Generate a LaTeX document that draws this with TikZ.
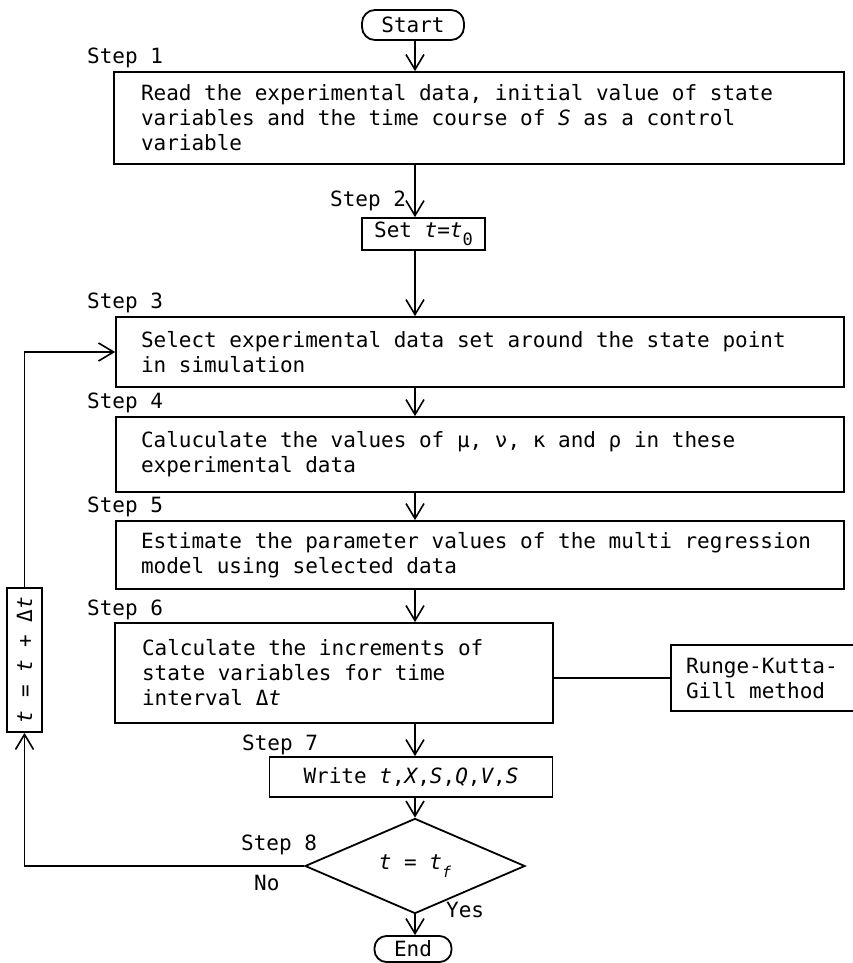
\documentclass[tikz,border=0pt]{standalone}
\usepackage{fontspec}
\newfontfamily\fcfont{DejaVu Sans Mono}
\usetikzlibrary{arrows.meta,shapes.geometric}
\newcommand{\fcsize}{\fcfont\fontsize{21}{25}\selectfont}
\newcommand{\fcspaces}{\spaceskip=12.64pt\relax\xspaceskip=12.64pt\relax}
\begin{document}
\begin{tikzpicture}[x=1pt,y=-1pt,
  every node/.style={font=\fcsize, text=black, execute at begin node=\fcspaces},
  proc/.style={draw, line width=1.8pt, align=left, inner ysep=0pt},
  term/.style={draw, line width=1.8pt, rounded corners=13pt, inner sep=0pt},
  lbl/.style={anchor=west, inner sep=0pt},
  conn/.style={line width=1.6pt},
  arr/.style={line width=1.6pt, -{Straight Barb[length=15pt,width=18pt,line width=1.6pt]}}
]
\useasboundingbox (0,0) rectangle (853,963);
\clip (0,0) rectangle (853,963);
\fill[white] (0,0) rectangle (853,963);
\coordinate (col) at (415,0);

% terminals
\node[term, minimum width=102pt, minimum height=30pt] (start) at (413,25) {Start};
\node[term, minimum width=77pt, minimum height=26pt, rounded corners=12pt] (end) at (413,949) {End};

% process boxes
\node[proc, minimum width=730pt, minimum height=92pt, text width=676pt, inner xsep=27pt] (s1) at (479,118)
  {Read the experimental data, initial value of state\\variables and the time course of \textit{S} as a control\\variable};
\node[proc, minimum width=123pt, minimum height=32pt, align=center, inner xsep=4pt] (s2) at (423.5,234)
  {Set \textit{t}=\textit{t}\raisebox{-8pt}{\fontsize{17}{17}\selectfont 0}};
\node[proc, minimum width=728pt, minimum height=70pt, text width=678pt, inner xsep=25pt] (s3) at (480,352)
  {Select experimental data set around the state point\\in simulation};
\node[proc, minimum width=728pt, minimum height=75pt, text width=678pt, inner xsep=25pt] (s4) at (480,454.5)
  {Caluculate the values of μ, ν, κ and ρ in these\\experimental data};
\node[proc, minimum width=728pt, minimum height=68pt, text width=678pt, inner xsep=25pt] (s5) at (480,555)
  {Estimate the parameter values of the multi regression\\model using selected data};
\node[proc, minimum width=438pt, minimum height=100pt, text width=384pt, inner xsep=27pt] (s6) at (334,673)
  {Calculate the increments of\\state variables for time\\interval Δ\textit{t}};
\node[proc, minimum width=190pt, minimum height=66pt, text width=160pt, inner xsep=15pt] (rk) at (766,678)
  {Runge-Kutta-\\Gill method};
\node[proc, minimum width=283pt, minimum height=40pt, align=center, inner xsep=4pt] (s7) at (411,777)
  {Write \textit{t},\textit{X},\textit{S},\textit{Q},\textit{V},\textit{S}};
\node[draw, diamond, line width=1.8pt, minimum width=220pt, minimum height=58pt, inner sep=0pt] (s8) at (415,866)
  {\textit{t} = \textit{t}\raisebox{-8pt}{\fontsize{15}{15}\selectfont\textit{f}}};
\node[draw, line width=1.8pt, rotate=90, minimum width=144pt, minimum height=35pt, inner sep=0pt] (fb) at (24.5,660)
  {\textit{t} = \textit{t} + Δ\textit{t}};

% labels
\node[lbl] (l1) at (87,58) {Step 1};
\node[lbl] (l2) at (330,201) {Step 2};
\node[lbl] (l3) at (87,303) {Step 3};
\node[lbl] (l4) at (87,403) {Step 4};
\node[lbl] (l5) at (87,507) {Step 5};
\node[lbl] (l6) at (87,610) {Step 6};
\node[lbl] (l7) at (242,745) {Step 7};
\node[lbl] (l8) at (241,845) {Step 8};
\node[lbl] (no) at (254,883) {No};
\node[lbl] (yes) at (446,910) {Yes};

% connectors
\draw[arr] (start.south -| col) -- (s1.north -| col);
\draw[arr] (s1.south -| col) -- (s2.north -| col);
\draw[arr] (s2.south -| col) -- (s3.north -| col);
\draw[arr] (s3.south -| col) -- (s4.north -| col);
\draw[arr] (s4.south -| col) -- (s5.north -| col);
\draw[arr] (s5.south -| col) -- (s6.north -| col);
\draw[arr] (s6.south -| col) -- (s7.north -| col);
\draw[arr] (s7.south -| col) -- (s8.north);
\draw[arr] (s8.south) -- (end.north -| col);
\draw[conn] (s6.east |- rk.west) -- (rk.west);
\draw[arr] (s8.west) -| (fb.west);
\draw[arr] (fb.east) |- (s3.west);
\end{tikzpicture}
\end{document}
